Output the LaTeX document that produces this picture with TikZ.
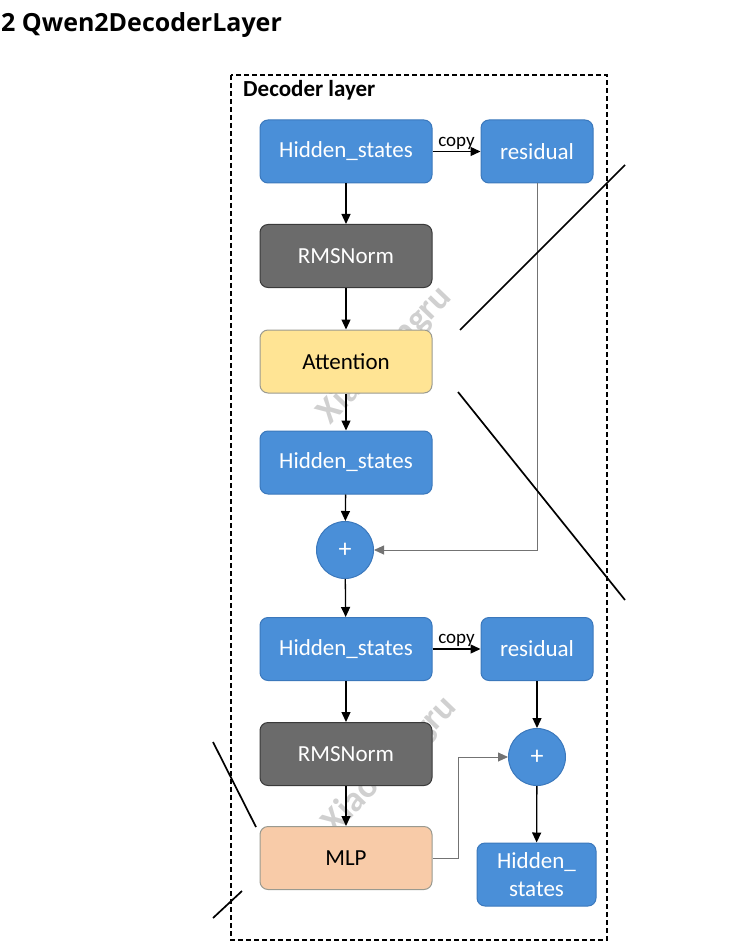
\documentclass[tikz,border=0pt]{standalone}
\usepackage{fontspec}
\setmainfont{Carlito}
\newfontfamily\titlefont{Open Sans}
\usetikzlibrary{arrows.meta}
\definecolor{bluefill}{HTML}{4A8FD8}
\definecolor{blueedge}{HTML}{3B78BC}
\definecolor{greyfill}{HTML}{6B6B6B}
\definecolor{greyedge}{HTML}{3A3A3A}
\definecolor{yellowfill}{HTML}{FFE494}
\definecolor{peachfill}{HTML}{F8CBA8}
\definecolor{softedge}{HTML}{9A9A90}
\definecolor{wmark}{HTML}{D0D0D0}
\tikzset{
  box/.style={rounded corners=8pt, minimum width=172pt, minimum height=63pt, line width=1pt, font=\fontsize{23}{25}\selectfont, inner sep=2pt},
  bluebox/.style={box, fill=bluefill, draw=blueedge, text=white},
  greybox/.style={box, fill=greyfill, draw=greyedge, text=white},
  yellowbox/.style={box, fill=yellowfill, draw=softedge, text=black},
  peachbox/.style={box, fill=peachfill, draw=softedge, text=black},
  plusnode/.style={circle, fill=bluefill, draw=blueedge, line width=1pt, minimum size=57pt, inner sep=0pt, text=white, font=\fontsize{26}{26}\selectfont},
  arr/.style={-{Triangle[length=10pt,width=9pt]}, line width=1.3pt, black},
  garr/.style={-{Triangle[length=10pt,width=9pt]}, line width=0.9pt, draw=gray!90!black},
  slash/.style={line width=1.7pt, black},
  copylbl/.style={above, font=\fontsize{19}{20}\selectfont, text=black, yshift=-2pt},
  wm/.style={text=wmark, font=\bfseries\fontsize{36}{36}\selectfont, rotate=46}
}
\begin{document}
\begin{tikzpicture}[x=1pt,y=-1pt]
\useasboundingbox (0,0) rectangle (744,949);
% title
\node[anchor=west, font=\titlefont\bfseries\fontsize{25}{27}\selectfont, inner sep=0pt] (title) at (1,25) {2 Qwen2DecoderLayer};
% dashed frame
\draw[line width=1.5pt, dash pattern=on 5pt off 3pt] (231,75) rectangle (607,940);
\node[anchor=west, font=\bfseries\fontsize{23}{25}\selectfont, inner sep=0pt] (dl) at (243,90) {Decoder layer};
% watermarks
\node[wm] (wm1) at (385,355) {XiaoHongru};
\node[wm] (wm2) at (390,765) {XiaoHongru};
% nodes
\node[bluebox] (hs1) at (346,151.5) {Hidden\_states};
\node[bluebox, minimum width=112pt] (res1) at (537,151.5) {residual};
\node[greybox] (rms1) at (346,256) {RMSNorm};
\node[yellowbox] (att) at (346,361.5) {Attention};
\node[bluebox] (hs2) at (346,462.5) {Hidden\_states};
\node[plusnode] (plus1) at (345,550) {+};
\node[bluebox] (hs3) at (346,649) {Hidden\_states};
\node[bluebox, minimum width=112pt] (res2) at (537,649) {residual};
\node[greybox] (rms2) at (346,754) {RMSNorm};
\node[plusnode] (plus2) at (537,757) {+};
\node[peachbox] (mlp) at (346,858) {MLP};
\node[bluebox, minimum width=119pt, align=center, font=\fontsize{23}{28}\selectfont] (hs4) at (536.5,874.5) {Hidden\_\\states};
% connectors
\draw[arr] (hs1) -- node[copylbl] {copy} (res1);
\draw[arr] (hs1) -- (rms1);
\draw[arr] (rms1) -- (att);
\draw[arr] (att) -- (hs2);
\draw[arr] (hs2) -- (plus1);
\draw[garr] (res1.south) |- (plus1.east);
\draw[arr] (plus1) -- (hs3);
\draw[arr] (hs3) -- node[copylbl] {copy} (res2);
\draw[arr] (hs3) -- (rms2);
\draw[arr] (rms2) -- (mlp);
\draw[arr] (res2) -- (plus2);
\coordinate (bend) at (458,858);
\draw[garr] (mlp.east) -- (bend) |- (plus2.west);
\draw[arr] (plus2) -- (hs4);
% slash lines
\draw[slash] (460,330) -- (625,165);
\draw[slash] (458,392) -- (625,600);
\draw[slash] (213,742) -- (256,827);
\draw[slash] (213,918) -- (242,891);
\end{tikzpicture}
\end{document}
